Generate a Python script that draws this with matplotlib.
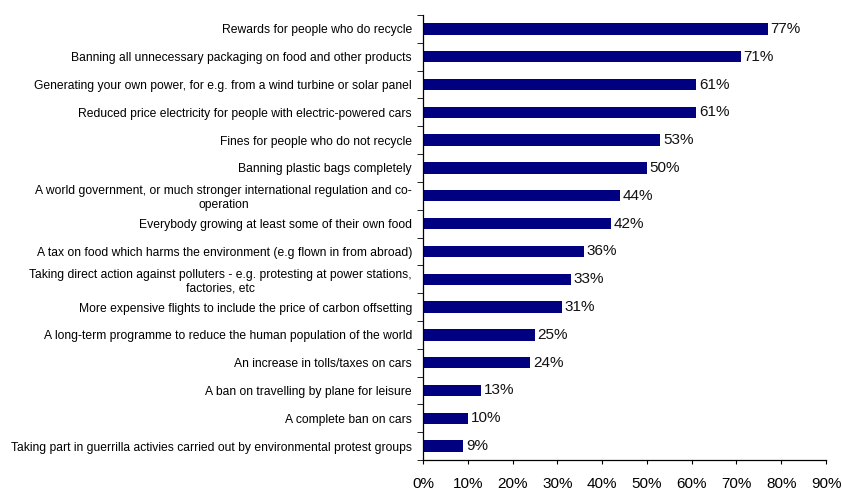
import matplotlib
matplotlib.use('Agg')
import matplotlib.pyplot as plt
from matplotlib.ticker import FixedLocator, PercentFormatter

plt.rcParams['font.family'] = ['Liberation Sans', 'DejaVu Sans']

# Survey options, top to bottom
measures = [
    "Rewards for people who do recycle",
    "Banning all unnecessary packaging on food and other products",
    "Generating your own power, for e.g. from a wind turbine or solar panel",
    "Reduced price electricity for people with electric-powered cars",
    "Fines for people who do not recycle",
    "Banning plastic bags completely",
    "A world government, or much stronger international regulation and co-\noperation",
    "Everybody growing at least some of their own food",
    "A tax on food which harms the environment (e.g flown in from abroad)",
    "Taking direct action against polluters - e.g. protesting at power stations,\nfactories, etc",
    "More expensive flights to include the price of carbon offsetting",
    "A long-term programme to reduce the human population of the world",
    "An increase in tolls/taxes on cars",
    "A ban on travelling by plane for leisure",
    "A complete ban on cars",
    "Taking part in guerrilla activies carried out by environmental protest groups",
]
support_pct = [77, 71, 61, 61, 53, 50, 44, 42, 36, 33, 31, 25, 24, 13, 10, 9]

fig = plt.figure(figsize=(8.42, 4.92), dpi=100)
ax = fig.add_axes([0.5024, 0.065, 0.4786, 0.9045])

ypos = list(range(len(measures)))[::-1]
ax.barh(ypos, support_pct, height=0.41, color='#000080')

for y, v in zip(ypos, support_pct):
    ax.text(v + 0.6, y, f"{v}%", va='center', ha='left', fontsize=11, color='#111111')

ax.set_xlim(0, 90)
ax.set_ylim(-0.5, len(measures) - 0.5)
ax.set_xticks(range(0, 91, 10))
ax.xaxis.set_major_formatter(PercentFormatter(decimals=0))
ax.tick_params(axis='x', direction='out', length=3, pad=9, labelsize=11, colors='black')

# category labels sit between boundary ticks
ax.set_yticks(ypos)
ax.set_yticklabels(measures, fontsize=8.7, multialignment='center')
ax.tick_params(axis='y', which='major', length=0, pad=8)
ax.yaxis.set_minor_locator(FixedLocator([i - 0.5 for i in range(len(measures) + 1)]))
ax.tick_params(axis='y', which='minor', direction='out', length=4)

for side in ('top', 'right'):
    ax.spines[side].set_visible(False)
for side in ('left', 'bottom'):
    ax.spines[side].set_linewidth(0.9)

fig.savefig('out.png', dpi=100)
